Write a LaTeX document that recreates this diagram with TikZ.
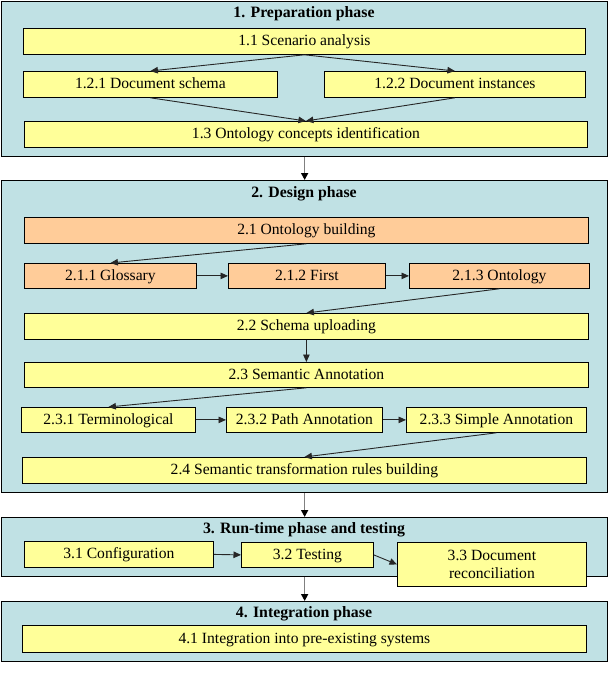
\documentclass[tikz,border=0pt]{standalone}
\usepackage{fontspec}
\setmainfont{Liberation Serif}
\usetikzlibrary{arrows.meta,calc}
\definecolor{phasebg}{HTML}{C0E1E4}
\definecolor{ybg}{HTML}{FFFF99}
\definecolor{obg}{HTML}{FFCC99}
\tikzset{
  phase/.style={draw=black, line width=1.3pt, fill=phasebg, inner sep=0pt, anchor=north west},
  mbox/.style={draw=black, line width=0.8pt, fill=ybg, inner sep=0pt, anchor=north west, font=\fontsize{15.6}{18}\selectfont, align=center},
  ybox/.style={mbox, text height=10pt, text depth=1.5pt},
  obox/.style={ybox, fill=obg},
  title/.style={font=\fontsize{15.8}{18}\selectfont\bfseries, inner sep=0pt},
  flow/.style={draw=black!85, line width=0.9pt, -{Triangle[length=7.5pt,width=6.5pt]}},
  pflow/.style={draw=black!50, line width=1.6pt, -{Triangle[length=7pt,width=7pt,color=black]}}
}
\begin{document}
\begin{tikzpicture}[x=1pt,y=-1pt]
\useasboundingbox (0,0) rectangle (609,674);
% phase boxes
\node[phase, minimum width=606pt, minimum height=155pt] (p1) at (1,1) {};
\node[phase, minimum width=606pt, minimum height=312pt] (p2) at (1,180) {};
\node[phase, minimum width=606pt, minimum height=59pt] (p3) at (1,517) {};
\node[phase, minimum width=606pt, minimum height=60pt] (p4) at (1,601) {};
% titles
\node[title] (t1) at (304,14) {1. Preparation phase};
\node[title] (t2) at (304,194) {2. Design phase};
\node[title] (t3) at (304,530) {3. Run-time phase and testing};
\node[title] (t4) at (304,614) {4. Integration phase};
% phase 1
\node[ybox, minimum width=562pt, minimum height=26pt] (n11) at (23,28) {1.1 Scenario analysis};
\node[ybox, minimum width=254pt, minimum height=26pt] (n121) at (23,71) {1.2.1 Document schema};
\node[ybox, minimum width=261pt, minimum height=26pt] (n122) at (324,71) {1.2.2 Document instances};
\node[ybox, minimum width=563pt, minimum height=26pt] (n13) at (24,121) {1.3 Ontology concepts identification};
% phase 2
\node[obox, minimum width=564pt, minimum height=26pt] (n21) at (24,217) {2.1 Ontology building};
\node[obox, minimum width=172pt, minimum height=25pt] (n211) at (24,263) {2.1.1 Glossary};
\node[obox, minimum width=157pt, minimum height=25pt] (n212) at (228,263) {2.1.2 First};
\node[obox, minimum width=180pt, minimum height=25pt] (n213) at (409,263) {2.1.3 Ontology};
\node[ybox, minimum width=564pt, minimum height=26pt] (n22) at (24,313) {2.2 Schema uploading};
\node[ybox, minimum width=564pt, minimum height=25pt] (n23) at (24,362) {2.3 Semantic Annotation};
\node[ybox, minimum width=174pt, minimum height=25pt] (n231) at (21,407) {2.3.1 Terminological};
\node[ybox, minimum width=156pt, minimum height=25pt] (n232) at (226,407) {2.3.2 Path Annotation};
\node[ybox, minimum width=180pt, minimum height=25pt] (n233) at (406,407) {2.3.3 Simple Annotation};
\node[ybox, minimum width=564pt, minimum height=26pt] (n24) at (22,457) {2.4 Semantic transformation rules building};
% phase 3
\node[ybox, minimum width=189pt, minimum height=26pt] (n31) at (24,541) {3.1 Configuration};
\node[ybox, minimum width=132pt, minimum height=25pt] (n32) at (241,542) {3.2 Testing};
\node[mbox, minimum width=189pt, minimum height=44pt] (n33) at (397,542) {3.3 Document\\reconciliation};
% phase 4
\node[ybox, minimum width=564pt, minimum height=27pt] (n41) at (22,625) {4.1 Integration into pre-existing systems};
% connectors phase 1
\draw[flow] (n11.south) -- (n121.north);
\draw[flow] (n11.south) -- (n122.north);
\draw[flow] (n121.south) -- (n13.north);
\draw[flow] (n122.south) -- (n13.north);
% phase 2
\draw[flow] (n21.south) -- (n211.north);
\draw[flow] (n211.east) -- (n212.west);
\draw[flow] (n212.east) -- (n213.west);
\draw[flow] (n213.south) -- (n22.north);
\draw[flow] (n22.south) -- (n23.north);
\draw[flow] (n23.south) -- (n231.north);
\draw[flow] (n231.east) -- (n232.west);
\draw[flow] (n232.east) -- (n233.west);
\draw[flow] (n233.south) -- (n24.north);
% phase 3
\draw[flow] (n31.east) -- (n32.west);
\draw[flow] (n32.east) -- (n33.west);
% between phases
\draw[pflow] (p1.south) -- (p2.north);
\draw[pflow] (p2.south) -- (p3.north);
\draw[pflow] (p3.south) -- (p4.north);
\end{tikzpicture}
\end{document}
